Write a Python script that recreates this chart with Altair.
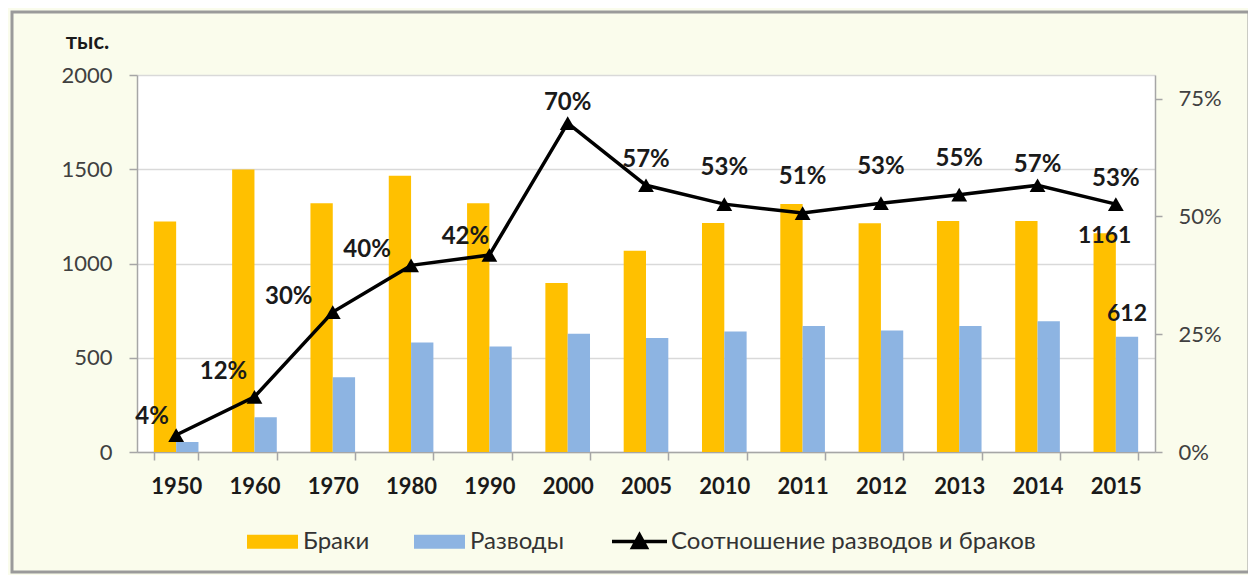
import altair as alt
import pandas as pd

# ---- data ----
years = ["1950", "1960", "1970", "1980", "1990", "2000", "2005",
         "2010", "2011", "2012", "2013", "2014", "2015"]
marriages = [1223, 1499, 1319, 1465, 1320, 897, 1067, 1215, 1316, 1213, 1226, 1226, 1161]
divorces = [53, 184, 397, 581, 560, 627, 605, 639, 669, 644, 668, 693, 612]
ratio = [0.036, 0.117, 0.297, 0.396, 0.418, 0.698, 0.566, 0.526, 0.507, 0.528, 0.546, 0.566, 0.526]
series_names = ["Браки", "Разводы"]
line_name = "Соотношение разводов и браков"
unit_label = "тыс."
left_ticks = [0, 500, 1000, 1500, 2000]
right_ticks = [0, 0.25, 0.5, 0.75]

FONT = "Lato, Liberation Sans, sans-serif"
GRAY = "#a6a6a6"
YELLOW = "#FFC000"
BLUE = "#8DB4E2"

bars_df = pd.DataFrame({
    "year": years * 2,
    "series": [series_names[0]] * len(years) + [series_names[1]] * len(years),
    "value": marriages + divorces,
})
line_df = pd.DataFrame({"year": years, "ratio": ratio, "name": [line_name] * len(years)})

x_enc = alt.X(
    "year:N", sort=years,
    scale=alt.Scale(paddingInner=0.43, paddingOuter=0.215),
    axis=alt.Axis(title=None, labelAngle=0, labelFont=FONT, labelFontSize=22,
                  labelFontWeight="bold", labelColor="#1a1a1a", labelPadding=16,
                  tickBand="extent", tickSize=8, tickColor=GRAY, tickWidth=1.5,
                  domainColor=GRAY, domainWidth=1.5),
)

y_left = alt.Y(
    "value:Q", scale=alt.Scale(domain=[0, 2000]),
    axis=alt.Axis(values=left_ticks, format="d", title=unit_label, titleAngle=0,
                  titleX=-50, titleY=-34,
                  titleAlign="center", titleBaseline="middle", titleFont=FONT,
                  titleFontSize=22, titleFontWeight="bold", titleColor="#1a1a1a",
                  labelFont=FONT, labelFontSize=22, labelColor="#404040", labelPadding=17,
                  grid=True, gridColor="#d9d9d9", gridWidth=1.5,
                  tickSize=8, tickColor=GRAY, tickWidth=1.5,
                  domainColor=GRAY, domainWidth=1.5),
)

y_right = alt.Y(
    "ratio:Q", scale=alt.Scale(domain=[0, 0.8], nice=False),
    axis=alt.Axis(orient="right", values=right_ticks, format=".0%", title=None, grid=False,
                  labelFont=FONT, labelFontSize=22, labelColor="#404040", labelPadding=16,
                  tickSize=7, tickColor=GRAY, tickWidth=1.5,
                  domainColor=GRAY, domainWidth=1.5),
)

bars = alt.Chart(bars_df).mark_bar().encode(
    x=x_enc,
    xOffset=alt.XOffset("series:N", sort=series_names),
    y=y_left,
    fill=alt.Fill(
        "series:N",
        scale=alt.Scale(domain=series_names, range=[YELLOW, BLUE]),
        legend=alt.Legend(title=None, orient="none", legendX=110, legendY=441,
                          direction="horizontal", symbolType="M-1,-0.27H1V0.27H-1Z",
                          symbolSize=2600, symbolStrokeWidth=0, labelFont=FONT,
                          labelFontSize=24, labelColor="#333333", labelOffset=5,
                          columnPadding=44, padding=0, labelLimit=0),
    ),
)

last = years[-1]
lab_m = alt.Chart(bars_df).transform_filter(
    (alt.datum.year == last) & (alt.datum.series == series_names[0])
).mark_text(font=FONT, fontSize=23, fontWeight="bold", color="#1a1a1a",
            baseline="middle", dy=3).encode(
    x=x_enc, xOffset=alt.XOffset("series:N", sort=series_names), y=y_left,
    text=alt.Text("value:Q"))
lab_d = alt.Chart(bars_df).transform_filter(
    (alt.datum.year == last) & (alt.datum.series == series_names[1])
).mark_text(font=FONT, fontSize=23, fontWeight="bold", color="#1a1a1a",
            baseline="middle", dy=-23).encode(
    x=x_enc, xOffset=alt.XOffset("series:N", sort=series_names), y=y_left,
    text=alt.Text("value:Q"))

line = alt.Chart(line_df).mark_line(strokeWidth=3.5).encode(
    x=x_enc, y=y_right,
    stroke=alt.Stroke(
        "name:N", scale=alt.Scale(domain=[line_name], range=["black"]),
        legend=alt.Legend(title=None, orient="none", legendX=473, legendY=437,
                          symbolType="M-1,0H1M-0.25,0.22L0,-0.24L0.25,0.22Z",
                          symbolSize=3025, symbolStrokeWidth=3.5, symbolFillColor="black",
                          labelFont=FONT, labelFontSize=24, labelColor="#333333",
                          labelOffset=2, padding=0, labelLimit=0),
    ),
)
points = alt.Chart(line_df).mark_point(shape="triangle-up", filled=True, size=250,
                                       color="black", opacity=1).encode(x=x_enc, y=y_right)


def pct_layer(yrs, dx, dy):
    return alt.Chart(line_df).transform_filter(
        alt.FieldOneOfPredicate(field="year", oneOf=yrs)
    ).mark_text(font=FONT, fontSize=24, fontWeight="bold", color="#1a1a1a",
                baseline="middle", dx=dx, dy=dy).encode(
        x=x_enc, y=y_right, text=alt.Text("ratio:Q", format=".0%"))


pct_layers = [
    pct_layer(["1950", "1990"], -24, -18),
    pct_layer(["1960"], -31, -25),
    pct_layer(["1970", "1980"], -44, -15),
    pct_layer(["2000", "2014"], 0, -20),
    pct_layer(["2005", "2015"], 0, -25),
    pct_layer(["2010", "2011", "2012", "2013"], 0, -36),
]

frame = alt.Chart(pd.DataFrame({"k": [0]})).mark_rect(
    fillOpacity=0, stroke="#9a9a9a", strokeWidth=3
).encode(x=alt.value(-125), x2=alt.value(1112), y=alt.value(-63), y2=alt.value(497))

bars_layer = alt.layer(bars, lab_m, lab_d)
line_layer = alt.layer(line, points, *pct_layers)

chart = alt.layer(bars_layer, line_layer, frame).resolve_scale(y="independent").properties(
    width=1018, height=377,
    autosize=alt.AutoSizeParams(type="none"),
    padding={"left": 129, "top": 67, "right": 93, "bottom": 123},
    background="#FAFCEC",
).configure_view(stroke="transparent", fill="white")

chart.save("out.html", embed_options={"renderer": "svg", "actions": False})
